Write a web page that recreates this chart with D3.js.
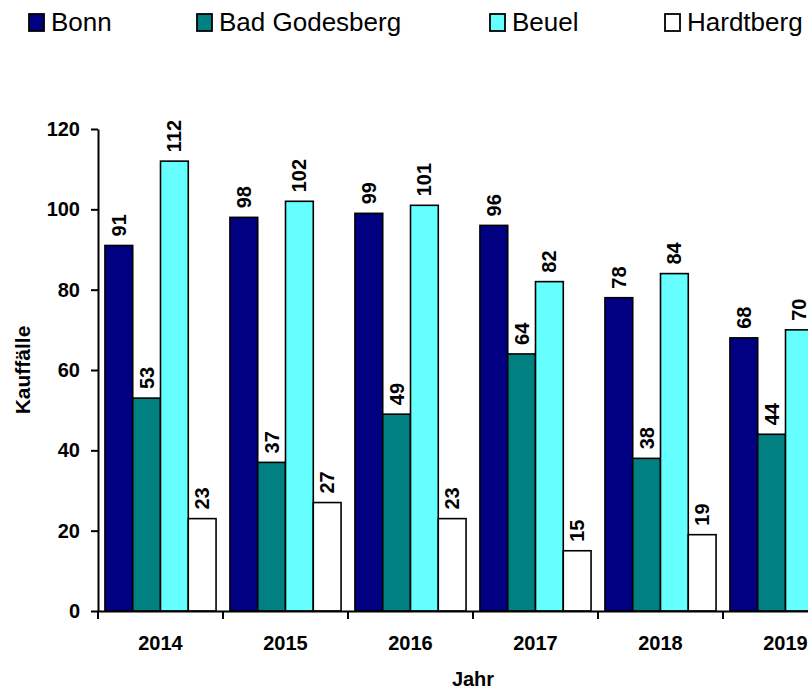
<!DOCTYPE html>
<meta charset="utf-8">
<style>
body {
  margin: 0;
  overflow: hidden;
  background: white;
  font-family: Arial, "Liberation Sans", sans-serif;
}
</style>
<body>
<script src="https://cdnjs.cloudflare.com/ajax/libs/d3/7.8.5/d3.min.js"></script>
<script>

// data (Hardtberg 2019 is cut off in the picture, estimated)
const years = ["2014", "2015", "2016", "2017", "2018", "2019"];
const seriesNames = ["Bonn", "Bad Godesberg", "Beuel", "Hardtberg"];
const bonn = [91, 98, 99, 96, 78, 68];
const badGodesberg = [53, 37, 49, 64, 38, 44];
const beuel = [112, 102, 101, 82, 84, 70];
const hardtberg = [23, 27, 23, 15, 19, 20];
const yTicks = [0, 20, 40, 60, 80, 100, 120];

const colors = ["#000080", "#008080", "#66ffff", "#ffffff"];
const seriesValues = [bonn, badGodesberg, beuel, hardtberg];

const fontFam = "Arial, 'Liberation Sans', sans-serif";

// plot box: the chart is wider than the window and gets cut on the right
const plot = {
  left: 98,
  right: 848,
  top: 129,
  bottom: 611
};

const svg = d3.select("body").append("svg")
  .attr("width", 880)
  .attr("height", 693);

const x = d3.scaleBand()
  .domain(years)
  .range([plot.left, plot.right]);

const xInner = d3.scaleBand()
  .domain(seriesNames)
  .range([0, x.bandwidth()])
  .paddingOuter(0.25);

const y = d3.scaleLinear()
  .domain([0, 120])
  .range([plot.bottom, plot.top]);

const cells = (yr, i) => seriesNames.map((s, k) => ({ s: s, k: k, v: seriesValues[k][i] }));

// bars
const groups = svg.append("g")
  .selectAll("g")
  .data(years)
  .join("g")
  .attr("transform", d => `translate(${x(d)},0)`);

groups.selectAll("rect")
  .data(cells)
  .join("rect")
  .attr("x", d => xInner(d.s))
  .attr("y", d => y(d.v))
  .attr("width", xInner.bandwidth())
  .attr("height", d => y(0) - y(d.v))
  .attr("fill", d => colors[d.k])
  .attr("stroke", "#000")
  .attr("stroke-width", 1.6);

// value labels, rotated
groups.selectAll("text")
  .data(cells)
  .join("text")
  .attr("transform", d => `translate(${xInner(d.s) + xInner.bandwidth() / 2 + 7},${y(d.v) - 9}) rotate(-90)`)
  .style("font-size", "20px")
  .style("font-weight", "bold")
  .text(d => d.v);

// y axis
svg.append("g")
  .attr("transform", `translate(${plot.left},0)`)
  .call(d3.axisLeft(y).tickValues(yTicks).tickSize(7).tickPadding(11).tickSizeOuter(0))
  .call(g => g.select(".domain").attr("stroke-width", 2))
  .call(g => g.selectAll(".tick line").attr("stroke-width", 2))
  .call(g => g.selectAll("text")
    .style("font-family", fontFam)
    .style("font-size", "20px")
    .style("font-weight", "bold")
    .attr("fill", "#000"));

// x axis: labels centered, ticks between categories
svg.append("g")
  .attr("transform", `translate(0,${plot.bottom})`)
  .call(d3.axisBottom(x).tickSize(0).tickPadding(25).tickSizeOuter(0))
  .call(g => g.select(".domain").attr("stroke-width", 2))
  .call(g => g.selectAll("text")
    .style("font-family", fontFam)
    .style("font-size", "20px")
    .style("font-weight", "bold")
    .attr("fill", "#000"));

svg.append("g")
  .selectAll("line")
  .data(years)
  .join("line")
  .attr("x1", d => x(d))
  .attr("x2", d => x(d))
  .attr("y1", plot.bottom)
  .attr("y2", plot.bottom + 8)
  .attr("stroke", "#000")
  .attr("stroke-width", 2);

// axis titles
svg.append("text")
  .attr("x", (plot.left + plot.right) / 2)
  .attr("y", 686)
  .attr("text-anchor", "middle")
  .style("font-size", "20px")
  .style("font-weight", "bold")
  .text("Jahr");

svg.append("text")
  .attr("transform", `translate(30,${(plot.top + plot.bottom) / 2}) rotate(-90)`)
  .attr("text-anchor", "middle")
  .style("font-size", "21px")
  .style("font-weight", "bold")
  .text("Kauffälle");

// legend
const legendX = [29, 197, 490, 665];
const legend = svg.append("g")
  .selectAll("g")
  .data(seriesNames)
  .join("g")
  .attr("transform", (d, i) => `translate(${legendX[i]},14)`);

legend.append("rect")
  .attr("width", 15)
  .attr("height", 17)
  .attr("fill", (d, i) => colors[i])
  .attr("stroke", "#000")
  .attr("stroke-width", 1.8);

legend.append("text")
  .attr("x", 22)
  .attr("y", 17)
  .style("font-size", "26px")
  .text(d => d);

</script>
</body>
